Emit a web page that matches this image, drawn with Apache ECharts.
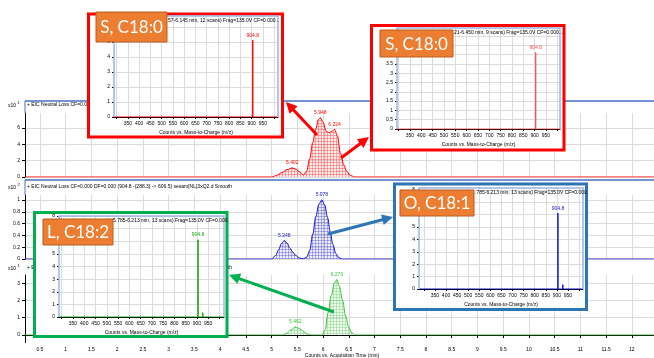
<!DOCTYPE html>
<html>
<head>
<meta charset="utf-8">
<script src="https://cdn.jsdelivr.net/npm/echarts@6.0.0/dist/echarts.min.js"></script>
<style>
html,body{margin:0;padding:0;background:#fff;}
#chart{width:654px;height:358px;}
</style>
</head>
<body>
<div id="chart"></div>
<script>
// ---------------- data ----------------
const timeTicks = [0.5,1,1.5,2,2.5,3,3.5,4,4.5,5,5.5,6,6.5,7,7.5,8,8.5,9,9.5,10,10.5,11,11.5,12];
const p1Ticks = [0,2,4,6];
const p2Ticks = [0,0.2,0.4,0.6,0.8,1];
const p3Ticks = [0,1,2,3];
const mzTicks = [300,350,400,450,500,550,600,650,700,750,800,850,900,950,1000];
const mzLabels = [350,400,450,500,550,600,650,700,750,800,850,900,950];
const s1Ticks = [0,1,2,3,4,5,6];
const s2Ticks = [0,0.5,1,1.5,2,2.5,3,3.5,4,4.5,5];
const s3Ticks = [0,1,2,3,4,5,6,7,8];
const s4Ticks = [0,1,2,3,4,5,6,7,8];

// EIC chromatograms [time (min), counts in panel units]
const eic1 = [[0.21,0],[5.00,0],[5.10,0.2],[5.20,0.55],[5.30,0.9],[5.402,1.1],[5.48,0.95],[5.56,0.55],[5.62,0.25],[5.68,0.7],[5.74,2.2],[5.80,4.2],[5.86,5.9],[5.91,7.0],[5.948,7.2],[6.00,6.7],[6.06,5.6],[6.12,5.4],[6.18,5.6],[6.224,5.8],[6.28,5.0],[6.34,2.9],[6.40,1.5],[6.46,0.7],[6.53,0.2],[6.62,0],[12.43,0]];
const eic1Apex = [5.402,5.948,6.224];
const eic2 = [[0.21,0],[5.00,0],[5.08,0.06],[5.14,0.16],[5.19,0.26],[5.248,0.31],[5.30,0.27],[5.36,0.18],[5.41,0.12],[5.47,0.06],[5.55,0.015],[5.62,0.005],[5.68,0.03],[5.74,0.14],[5.80,0.42],[5.86,0.72],[5.92,0.93],[5.978,1.0],[6.03,0.92],[6.09,0.70],[6.14,0.46],[6.19,0.25],[6.25,0.09],[6.31,0.02],[6.37,0],[12.43,0]];
const eic2Apex = [5.248,5.978];
const eic3 = [[0.21,0],[5.22,0],[5.30,0.1],[5.38,0.3],[5.462,0.46],[5.55,0.36],[5.63,0.18],[5.70,0.06],[5.78,0],[5.98,0],[6.04,0.3],[6.10,1.3],[6.16,2.3],[6.22,3.0],[6.27,3.2],[6.32,2.8],[6.38,2.0],[6.44,1.1],[6.50,0.45],[6.56,0.12],[6.62,0],[12.43,0]];
const eic3Apex = [5.462,6.27];

// MS spectra [m/z, counts]
const spec1 = [[288,0],[904.3,0],[904.8,5.1],[905.3,0],[1017,0]];
const spec2 = [[293,0],[904.3,0],[904.8,4.1],[905.3,0],[1012,0]];
const spec3 = [[278,0],[904.3,0],[904.8,6.1],[905.3,0],[926.5,0],[927,0.35],[927.5,0],[1018,0]];
const spec4 = [[288,0],[904.3,0],[904.8,6.1],[905.3,0],[925.5,0],[926,0.35],[926.5,0],[1020,0]];
const specApex = [904.8];

const panelTitles = [
  '+ EIC Neutral Loss CF=0.000 DF=0.000 (906.8 -(284.3) -> 622.5) sesam[NL]3xQ2.d Smooth',
  '+ EIC Neutral Loss CF=0.000 DF=0.000 (904.8 -(288.3) -> 606.5) sesam[NL]3xQ2.d Smooth',
  '+ EIC Neutral Loss CF=0.000 DF=0.000 (902.8 -(280.3) -> 622.5) sesam[NL]3xQ2.d Smooth'
];
const panelExp = ['1','2','1'];
const insetTitles = [
  '57-6.145 min, 12 scans) Frag=135.0V CF=0.000...',
  '21-6.450 min, 9 scans) Frag=135.0V CF=0.000...',
  '.785-6.213 min, 13 scans) Frag=135.0V CF=0.000.',
  '5.785-6.213 min, 13 scans) Frag=135.0V CF=0.000.'
];
const insetNames = ['S, C18:0','S, C18:0','O, C18:1','L, C18:2'];
const timeAxisName = 'Counts vs. Acquisition Time (min)';
const mzAxisName = 'Counts vs. Mass-to-Charge (m/z)';

// ---------------- styles ----------------
const FONT = 'Liberation Sans';
const RED = '#FF0000', BLUE = '#1414CC', GREEN = '#3CC43C';
const GRIDC = '#DCDCDC';

function makePattern(color){
  const c = document.createElement('canvas');
  c.width = 3; c.height = 3;
  const ctx = c.getContext('2d');
  ctx.fillStyle = color;
  ctx.globalAlpha = 0.1;
  ctx.fillRect(0,0,3,3);
  ctx.globalAlpha = 0.45;
  ctx.fillRect(0,0,3,1);
  ctx.fillRect(0,0,1,3);
  return {image: c, repeat: 'repeat'};
}

const chart = echarts.init(document.getElementById('chart'), null, {renderer:'canvas'});

const grids = [], xAxes = [], yAxes = [], series = [];

// main panels
const mainPanels = [
  {top:113, height:64, ymax:7.8, ticks:p1Ticks, data:eic1, apex:eic1Apex, color:RED},
  {top:195, height:64, ymax:1.085, ticks:p2Ticks, data:eic2, apex:eic2Apex, color:BLUE},
  {top:275, height:60, ymax:3.47, ticks:p3Ticks, data:eic3, apex:eic3Apex, color:GREEN}
];
mainPanels.forEach((p, i) => {
  grids.push({left:25, right:0, top:p.top, height:p.height, outerBoundsMode:'none', containLabel:false});
  const last = i === 2;
  xAxes.push({
    type:'value', gridIndex:i, min:0.21, max:12.43, z:0,
    offset: last ? 8 : 0,
    axisLine:{show:last, lineStyle:{color:'#000', width:1}},
    axisTick:{show:last, customValues:timeTicks, length:3, lineStyle:{color:'#000'}},
    axisLabel:{show:last, customValues:timeTicks, fontSize:5, margin:4, color:'#000', fontFamily:FONT},
    splitLine:{show:true, lineStyle:{color:GRIDC, width:1}}
  });
  yAxes.push({
    type:'value', gridIndex:i, min:0, max:p.ymax, z:0,
    axisLine:{show:true, onZero:false, lineStyle:{color:'#000', width:1}},
    axisTick:{show:true, customValues:p.ticks, length:3, lineStyle:{color:'#000'}},
    axisLabel:{customValues:p.ticks, fontSize:5, margin:5, color:'#000', fontFamily:FONT},
    splitLine:{show:true, lineStyle:{color:GRIDC, width:1}}
  });
  series.push({
    type:'line', xAxisIndex:i, yAxisIndex:i, z:2,
    smooth:0.35, smoothMonotone:'x', symbol:'none',
    data: p.data.map(d => p.apex.includes(d[0]) ?
      {value:d, symbol:'circle', symbolSize:1, label:{show:true}} : d),
    lineStyle:{color:p.color, width:1},
    itemStyle:{color:p.color},
    areaStyle:{color:makePattern(p.color)},
    label:{show:false, position:'top', distance:2, fontSize:5, color:p.color, fontFamily:FONT,
      formatter: q => q.value[0].toFixed(3)},
    emphasis:{disabled:true}, silent:true, animation:false
  });
});

// inset spectra
const insets = [
  {l:114, t:16, w:164, h:101, xmin:288, xmax:1017, ymax:6.73, ticks:s1Ticks, data:spec1, color:RED},
  {l:397, t:28, w:163, h:101, xmin:293, xmax:1012, ymax:5.43, ticks:s2Ticks, data:spec2, color:'#FF5050'},
  {l:419, t:188, w:164, h:101, xmin:278, xmax:1018, ymax:8.15, ticks:s3Ticks, data:spec3, color:'#1010D0'},
  {l:59, t:216, w:165, h:101, xmin:288, xmax:1020, ymax:8.0, ticks:s4Ticks, data:spec4, color:'#10A010'}
];
insets.forEach((s, k) => {
  const i = 3 + k;
  grids.push({left:s.l, top:s.t, width:s.w, height:s.h, outerBoundsMode:'none', containLabel:false});
  xAxes.push({
    type:'value', gridIndex:i, min:s.xmin, max:s.xmax, z:6,
    name:mzAxisName, nameLocation:'middle', nameGap:13,
    nameTextStyle:{fontSize:5, color:'#000', fontFamily:FONT},
    axisLine:{show:true, onZero:false, lineStyle:{color:'#000', width:1}},
    axisTick:{show:true, customValues:mzTicks, length:2, lineStyle:{color:'#000'}},
    axisLabel:{customValues:mzLabels, fontSize:5, margin:4, color:'#000', fontFamily:FONT},
    splitLine:{show:true, lineStyle:{color:GRIDC, width:1}}
  });
  yAxes.push({
    type:'value', gridIndex:i, min:0, max:s.ymax, z:6,
    axisLine:{show:false},
    axisTick:{show:true, customValues:s.ticks, length:2, lineStyle:{color:'#000'}},
    axisLabel:{customValues:s.ticks, fontSize:5, margin:4, color:'#000', fontFamily:FONT},
    splitLine:{show:true, lineStyle:{color:GRIDC, width:1}}
  });
  series.push({
    type:'line', xAxisIndex:i, yAxisIndex:i, z:7, symbol:'none',
    data: s.data.map(d => specApex.includes(d[0]) ?
      {value:d, symbol:'circle', symbolSize:1, label:{show:true}} : d),
    lineStyle:{color:s.color, width:1},
    itemStyle:{color:s.color},
    label:{show:false, position:'top', distance:2, fontSize:5, color:s.color, fontFamily:FONT,
      formatter: q => q.value[0].toFixed(1)},
    emphasis:{disabled:true}, silent:true, animation:false
  });
});

// ---------------- decorations ----------------
const G = [];
const PANEL_BLUE = '#4472C4';
[[101,113],[180,195]].forEach(([y0,y1]) => {
  G.push({type:'line', z:1, shape:{x1:25,y1:y0,x2:654,y2:y0}, style:{stroke:PANEL_BLUE, lineWidth:1.5}});
  G.push({type:'line', z:1, shape:{x1:25,y1:y0,x2:25,y2:y1}, style:{stroke:PANEL_BLUE, lineWidth:1}});
});
G.push({type:'line', z:1, shape:{x1:25.5,y1:335,x2:25.5,y2:343}, style:{stroke:'#000', lineWidth:1}});
[105,187,268].forEach((y, i) => {
  G.push({type:'text', z:1, x:27, y:y, style:{text:panelTitles[i], fontSize:5, fontFamily:FONT, fill:'#000', textVerticalAlign:'middle'}});
  G.push({type:'text', z:1, x:8, y:y+1, style:{text:'x10', fontSize:5, fontFamily:FONT, fill:'#000', textVerticalAlign:'middle'}});
  G.push({type:'text', z:1, x:17.5, y:y-2, style:{text:panelExp[i], fontSize:4, fontFamily:FONT, fill:'#000', textVerticalAlign:'middle'}});
});
G.push({type:'text', z:1, x:342, y:356, style:{text:timeAxisName, fontSize:5, fontFamily:FONT, fill:'#000', textAlign:'center', textVerticalAlign:'middle'}});

const boxes = [
  {x:88.5, y:14, w:194, h:123, c:'#FF0000'},
  {x:371.5, y:25.5, w:192.5, h:124.5, c:'#FF0000'},
  {x:394.5, y:184, w:192, h:125.5, c:'#2E75B6'},
  {x:34.5, y:212.5, w:192.5, h:124, c:'#00B050'}
];
boxes.forEach(b => {
  G.push({type:'rect', z:5, shape:{x:b.x, y:b.y, width:b.w, height:b.h}, style:{fill:'#fff', stroke:b.c, lineWidth:3}});
});
insets.forEach(s => {
  const r = s.l + s.w, bt = s.t + s.h;
  G.push({type:'polyline', z:8, shape:{points:[[s.l,bt],[s.l,s.t],[r,s.t],[r,bt]]}, style:{stroke:'#9DB5E2', lineWidth:1.5, fill:null}});
});
const titlePos = [[168,21],[454,33],[475,193],[113,221]];
titlePos.forEach((p, k) => {
  G.push({type:'text', z:8, x:p[0], y:p[1], style:{text:insetTitles[k], fontSize:5, fontFamily:FONT, fill:'#000', textVerticalAlign:'middle'}});
});
const namePos = [[96,12,71,30],[380,30,73,27],[400,190,74,26],[43,219,70,26]];
namePos.forEach((p, k) => {
  G.push({type:'rect', z:9, shape:{x:p[0], y:p[1], width:p[2], height:p[3]}, style:{fill:'#ED7D31', stroke:'#B85F22', lineWidth:1}});
  G.push({type:'text', z:9, x:p[0]+p[2]/2, y:p[1]+p[3]/2+1, style:{text:insetNames[k], fontSize:17, fontFamily:'Lato', fill:'#fff', textAlign:'center', textVerticalAlign:'middle'}});
});
function arrow(x1,y1,x2,y2,color){
  const dx=x2-x1, dy=y2-y1, L=Math.hypot(dx,dy), ux=dx/L, uy=dy/L;
  const hl=11, hw=5.5;
  const bx=x2-ux*hl, by=y2-uy*hl;
  G.push({type:'line', z:10, shape:{x1:x1,y1:y1,x2:bx+ux*1,y2:by+uy*1}, style:{stroke:color,lineWidth:3}});
  G.push({type:'polygon', z:10, shape:{points:[[x2,y2],[bx-uy*hw,by+ux*hw],[bx+uy*hw,by-ux*hw]]}, style:{fill:color}});
}
arrow(317,135,286,102,'#FF0000');
arrow(341,158,369,137,'#FF0000');
arrow(328,234,393,217,'#2E75B6');
arrow(334,312,229,275,'#00B050');

chart.setOption({
  backgroundColor:'#fff',
  animation:false,
  grid:grids, xAxis:xAxes, yAxis:yAxes, series:series,
  graphic:{elements:G}
});
</script>
</body>
</html>
